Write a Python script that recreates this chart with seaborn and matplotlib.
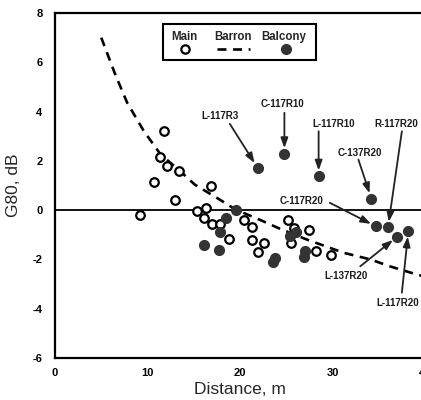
import matplotlib
matplotlib.use("Agg")
import matplotlib.pyplot as plt
import seaborn as sns
import pandas as pd
from matplotlib.lines import Line2D
from matplotlib.patches import Rectangle

# ---- data ----
main_x = [9.2, 10.7, 11.8, 11.4, 12.1, 13.4, 13.0, 16.9, 15.4, 16.3, 16.1, 17.0, 17.8,
          18.8, 20.4, 21.3, 21.3, 22.6, 21.9, 25.2, 25.8, 27.5, 25.5, 28.2, 29.8]
main_y = [-0.18, 1.14, 3.21, 2.15, 1.79, 1.59, 0.43, 1.0, -0.04, 0.1, -0.31, -0.58, -0.58,
          -1.17, -0.38, -0.68, -1.22, -1.33, -1.71, -0.41, -0.72, -0.81, -1.35, -1.67, -1.84]

balcony_x = [21.9, 24.8, 28.5, 34.2, 34.7, 36.0, 37.0, 38.2, 16.1, 17.7, 17.8, 18.5,
             19.6, 23.6, 23.8, 25.4, 26.0, 27.0, 26.9]
balcony_y = [1.72, 2.29, 1.38, 0.47, -0.66, -0.70, -1.07, -0.85, -1.43, -1.63, -0.9, -0.31,
             -0.01, -2.1, -1.95, -1.05, -0.9, -1.65, -1.9]

barron_x = [5.0, 6.5, 7.8, 9.6, 11.4, 13.5, 15.1, 17.8, 19.5, 22.5, 24.1, 27.2, 31.2,
            34.1, 36.2, 39.1, 40.5]
barron_y = [7.0, 5.52, 4.36, 3.21, 2.27, 1.59, 1.04, 0.43, 0.03, -0.45, -0.72, -1.19,
            -1.73, -2.0, -2.28, -2.61, -2.75]

# labels: (name, index into balcony arrays)
label_names = ["L-117R3", "C-117R10", "L-117R10", "C-137R20", "C-117R20",
               "R-117R20", "L-137R20", "L-117R20"]
label_idx = [0, 1, 2, 3, 4, 5, 6, 7]

xticks = [0, 10, 20, 30, 40]
xtick_labels = ["0", "10", "20", "30", "40"]
yticks = [-6, -4, -2, 0, 2, 4, 6, 8]
ytick_labels = ["-6", "-4", "-2", "0", "2", "4", "6", "8"]

# ---- style ----
sns.set_theme(style="white")
plt.rcParams["font.family"] = ["Liberation Sans", "DejaVu Sans"]

fig = plt.figure(figsize=(4.21, 4.0), dpi=100)
ax = fig.add_axes([55 / 421, 0.105, 370 / 421, 0.8625])

dark = "#333333"
main_df = pd.DataFrame({"x": main_x, "y": main_y})
bal_df = pd.DataFrame({"x": balcony_x, "y": balcony_y})
bar_df = pd.DataFrame({"x": barron_x, "y": barron_y})

ax.axhline(0, color="black", lw=1.3, zorder=1)
sns.lineplot(data=bar_df, x="x", y="y", ax=ax, color="black", lw=1.9,
             linestyle=(0, (3.4, 2.5)), sort=False, zorder=2)
sns.scatterplot(data=main_df, x="x", y="y", ax=ax, marker="o", s=38,
                facecolor="white", edgecolor="black", linewidth=1.6, zorder=3)
sns.scatterplot(data=bal_df, x="x", y="y", ax=ax, marker="o", s=52,
                color=dark, edgecolor=dark, linewidth=0.8, zorder=4)

# ---- annotations ----
text_pos = [(17.8, 3.82), (24.6, 4.32), (30.1, 3.48), (33.0, 2.33), (26.7, 0.37),
            (36.9, 3.51), (31.5, -2.68), (37.1, -3.77)]
arrow_start = [(18.9, 3.5), (24.8, 3.95), (28.5, 3.2), (32.8, 2.05), (29.7, 0.3),
               (37.5, 3.2), (33.0, -2.28), (37.5, -3.35)]
for name, i, tp, st in zip(label_names, label_idx, text_pos, arrow_start):
    ax.text(tp[0], tp[1], name, fontsize=7, ha="center", va="center",
            fontweight="bold", color="#1a1a1a", zorder=6)
    ax.annotate("", xy=(balcony_x[i], balcony_y[i]), xytext=st,
                arrowprops=dict(arrowstyle="-|>,head_length=0.5,head_width=0.18",
                                color="#222222", lw=1.3, shrinkA=0, shrinkB=4),
                zorder=5)

# ---- legend (manual, label above symbol) ----
ax.add_patch(Rectangle((0.293, 0.864), 0.412, 0.104, transform=ax.transAxes,
                       fill=False, edgecolor="black", lw=1.5, zorder=6))
for lx, txt in zip([0.351, 0.480, 0.617], ["Main", "Barron", "Balcony"]):
    ax.text(lx, 0.931, txt, transform=ax.transAxes, ha="center", va="center",
            fontsize=8.3, fontweight="bold", zorder=7)
ax.add_line(Line2D([0.351], [0.895], transform=ax.transAxes, marker="o", ms=6,
                   mfc="white", mec="black", mew=1.6, ls="none", zorder=7))
ax.add_line(Line2D([0.437, 0.527], [0.895, 0.895], transform=ax.transAxes,
                   color="black", lw=1.9, ls=(0, (3.4, 2.5)), zorder=7))
ax.add_line(Line2D([0.625], [0.895], transform=ax.transAxes, marker="o", ms=7,
                   mfc=dark, mec=dark, ls="none", zorder=7))

# ---- axes ----
ax.set_xlim(0, 40)
ax.set_ylim(-6, 8)
ax.set_xticks(xticks)
ax.set_xticklabels(xtick_labels, fontweight="bold", fontsize=8)
ax.set_yticks(yticks)
ax.set_yticklabels(ytick_labels, fontweight="bold", fontsize=8)
ax.set_yticks([-5, -3, -1, 1, 3, 5, 7], minor=True)
ax.tick_params(axis="both", which="both", direction="in", color="black",
               width=1.3, labelcolor="black")
ax.tick_params(axis="both", which="major", length=6)
ax.tick_params(axis="y", which="minor", length=5)
ax.tick_params(axis="x", which="major", pad=7)
ax.tick_params(axis="y", which="major", pad=9)
for sp in ax.spines.values():
    sp.set_color("black")
    sp.set_linewidth(1.6)
ax.set_xlabel("Distance, m", fontsize=12.5, labelpad=3)
ax.set_ylabel("G80, dB", fontsize=12.5, labelpad=8)
ax.grid(False)

fig.savefig("out.png", dpi=100, facecolor="white")
